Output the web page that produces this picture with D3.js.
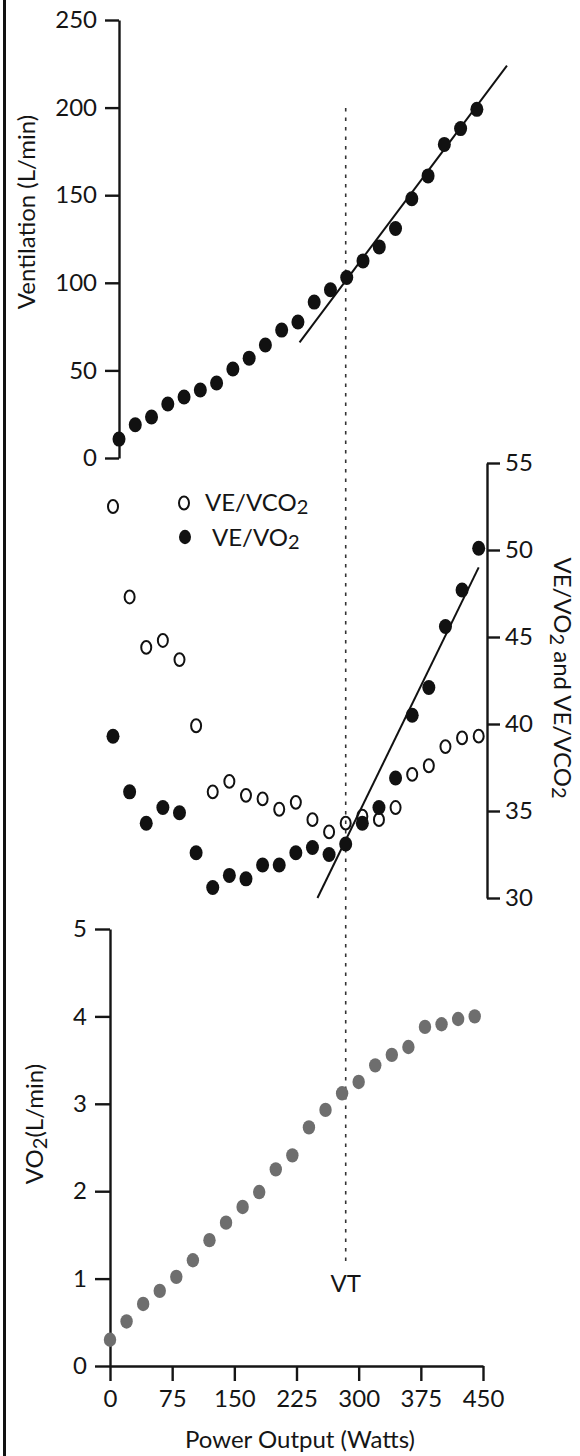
<!DOCTYPE html>
<html>
<head>
<meta charset="utf-8">
<script src="https://cdn.jsdelivr.net/npm/d3@7"></script>
<style>
  body { margin: 0; background: #fff; }
  text { font-family: Lato, "DejaVu Sans", sans-serif; fill: #151515; }
  .axis text { font-size: 24px; }
  .axis path, .axis line { stroke: #151515; stroke-width: 2.4; }
  .label { font-size: 24px; }
</style>
</head>
<body>
<script>
var svgWidth = 580;
var svgHeight = 1456;

// power steps (W), one reading every 20 W
var power = [0, 20, 40, 60, 80, 100, 120, 140, 160, 180, 200, 220,
             240, 260, 280, 300, 320, 340, 360, 380, 400, 420, 440];

// top panel: ventilation (L/min)
var ventilation = [10.8, 19, 23.4, 30.8, 34.8, 38.8, 42.8, 50.8, 57, 64.5, 73, 77.6,
                   89, 96, 103, 112.5, 120.5, 131, 148, 161, 179, 188, 199];

// middle panel: ventilatory equivalents
var veVco2 = [52.5, 47.3, 44.4, 44.8, 43.7, 39.9, 36.1, 36.7, 35.9, 35.7, 35.1, 35.5,
              34.5, 33.8, 34.3, 34.7, 34.5, 35.2, 37.1, 37.6, 38.7, 39.2, 39.3];
var veVo2 = [39.3, 36.1, 34.3, 35.2, 34.9, 32.6, 30.6, 31.3, 31.1, 31.9, 31.9, 32.6,
             32.9, 32.5, 33.1, 34.3, 35.2, 36.9, 40.5, 42.1, 45.6, 47.7, 50.1];

// bottom panel: VO2 (L/min)
var vo2 = [0.30, 0.51, 0.71, 0.86, 1.02, 1.21, 1.44, 1.64, 1.82, 1.99, 2.25, 2.41,
           2.73, 2.93, 3.12, 3.25, 3.44, 3.56, 3.65, 3.88, 3.91, 3.97, 4.00];

// fitted lines drawn on the figure (ends)
var ventFitX = [222, 477];
var ventFitY = [66, 224];
var ratioFitX = [246, 440];
var ratioFitY = [30, 49];

// ventilatory threshold
var vtPower = 280;

// tick labels
var ventTicks = [0, 50, 100, 150, 200, 250];
var ratioTicks = [30, 35, 40, 45, 50, 55];
var vo2Ticks = [0, 1, 2, 3, 4, 5];
var powerTicks = [0, 75, 150, 225, 300, 375, 450];

var svg = d3.select("body")
  .append("svg")
  .attr("width", svgWidth)
  .attr("height", svgHeight);

// left frame line
svg.append("line")
  .attr("x1", 4.5).attr("x2", 4.5)
  .attr("y1", 0).attr("y2", svgHeight)
  .attr("stroke", "#111")
  .attr("stroke-width", 3);

// scales, one set per panel (panels are not perfectly aligned)
var xTop = d3.scaleLinear().domain([0, 450]).range([119, 485]);
var yVent = d3.scaleLinear().domain([0, 250]).range([458, 20]);

var xMid = d3.scaleLinear().domain([0, 450]).range([113, 487]);
var yRatio = d3.scaleLinear().domain([30, 55]).range([898, 463]);

var xBot = d3.scaleLinear().domain([0, 450]).range([110, 483]);
var yVo2 = d3.scaleLinear().domain([0, 5]).range([1366, 929]);

function styleAxis(g) {
  g.attr("font-family", null).attr("font-size", null).classed("axis", true);
}

// ---- axes
svg.append("g")
  .attr("transform", "translate(119,0)")
  .call(d3.axisLeft(yVent).tickValues(ventTicks).tickFormat(d3.format("d"))
    .tickSize(14).tickSizeOuter(0).tickPadding(8))
  .call(styleAxis);

svg.append("g")
  .attr("transform", "translate(487,0)")
  .call(d3.axisRight(yRatio).tickValues(ratioTicks).tickFormat(d3.format("d"))
    .tickSize(13).tickSizeOuter(0).tickPadding(5))
  .call(styleAxis);

svg.append("g")
  .attr("transform", "translate(110,0)")
  .call(d3.axisLeft(yVo2).tickValues(vo2Ticks).tickFormat(d3.format("d"))
    .tickSize(15).tickSizeOuter(0).tickPadding(8))
  .call(styleAxis);

svg.append("g")
  .attr("transform", "translate(0,1366)")
  .call(d3.axisBottom(xBot).tickValues(powerTicks).tickFormat(d3.format("d"))
    .tickSize(15).tickSizeOuter(0).tickPadding(9))
  .call(styleAxis);

// ---- VT dashed line
svg.append("line")
  .attr("x1", xMid(vtPower)).attr("x2", xMid(vtPower))
  .attr("y1", 108).attr("y2", 1262)
  .attr("stroke", "#333")
  .attr("stroke-width", 1.6)
  .attr("stroke-dasharray", "3.5,6");

svg.append("text")
  .attr("class", "label")
  .attr("x", xMid(vtPower))
  .attr("y", 1292)
  .attr("text-anchor", "middle")
  .text("VT");

// ---- top panel
svg.append("line")
  .attr("x1", xTop(ventFitX[0])).attr("y1", yVent(ventFitY[0]))
  .attr("x2", xTop(ventFitX[1])).attr("y2", yVent(ventFitY[1]))
  .attr("stroke", "#111").attr("stroke-width", 2);

svg.append("g").selectAll("ellipse")
  .data(power)
  .enter()
  .append("ellipse")
  .attr("cx", (d, i) => xTop(d))
  .attr("cy", (d, i) => yVent(ventilation[i]))
  .attr("rx", 6.5).attr("ry", 7.5)
  .attr("fill", "#111");

// ---- middle panel
svg.append("line")
  .attr("x1", xMid(ratioFitX[0])).attr("y1", yRatio(ratioFitY[0]))
  .attr("x2", xMid(ratioFitX[1])).attr("y2", yRatio(ratioFitY[1]))
  .attr("stroke", "#111").attr("stroke-width", 2);

svg.append("g").selectAll("ellipse")
  .data(power)
  .enter()
  .append("ellipse")
  .attr("cx", d => xMid(d))
  .attr("cy", (d, i) => yRatio(veVco2[i]))
  .attr("rx", 5).attr("ry", 6.4)
  .attr("fill", "none")
  .attr("stroke", "#111")
  .attr("stroke-width", 2);

svg.append("g").selectAll("ellipse")
  .data(power)
  .enter()
  .append("ellipse")
  .attr("cx", d => xMid(d))
  .attr("cy", (d, i) => yRatio(veVo2[i]))
  .attr("rx", 6.5).attr("ry", 7.5)
  .attr("fill", "#111");

// legend
svg.append("ellipse")
  .attr("cx", 184).attr("cy", 503)
  .attr("rx", 5).attr("ry", 6.4)
  .attr("fill", "none").attr("stroke", "#111").attr("stroke-width", 2);
svg.append("ellipse")
  .attr("cx", 185).attr("cy", 537)
  .attr("rx", 6).attr("ry", 7.2)
  .attr("fill", "#111");

var leg1 = svg.append("text").attr("class", "label").attr("x", 205).attr("y", 511);
leg1.append("tspan").text("VE/VCO");
leg1.append("tspan").attr("font-size", "20px").attr("dy", 3).text("2");

var leg2 = svg.append("text").attr("class", "label").attr("x", 212).attr("y", 546);
leg2.append("tspan").text("VE/VO");
leg2.append("tspan").attr("font-size", "20px").attr("dy", 3).text("2");

// ---- bottom panel
svg.append("g").selectAll("ellipse")
  .data(power)
  .enter()
  .append("ellipse")
  .attr("cx", d => xBot(d))
  .attr("cy", (d, i) => yVo2(vo2[i]))
  .attr("rx", 6.2).attr("ry", 7.2)
  .attr("fill", "#6e6e6e");

// ---- axis titles
svg.append("text")
  .attr("class", "label")
  .attr("transform", "translate(35,212) rotate(-90)")
  .attr("text-anchor", "middle")
  .text("Ventilation (L/min)");

var rt = svg.append("text")
  .attr("class", "label")
  .attr("transform", "translate(554,678) rotate(90)")
  .attr("text-anchor", "middle");
rt.append("tspan").text("VE/VO");
rt.append("tspan").attr("font-size", "20px").attr("dy", 4).text("2");
rt.append("tspan").attr("dy", -4).text(" and VE/VCO");
rt.append("tspan").attr("font-size", "20px").attr("dy", 2).text("2");

var lt = svg.append("text")
  .attr("class", "label")
  .attr("transform", "translate(43,1124) rotate(-90)")
  .attr("text-anchor", "middle");
lt.append("tspan").text("VO");
lt.append("tspan").attr("font-size", "20px").attr("dy", 4).text("2");
lt.append("tspan").attr("dy", -4).text("(L/min)");

svg.append("text")
  .attr("class", "label")
  .attr("x", 300)
  .attr("y", 1448)
  .attr("text-anchor", "middle")
  .text("Power Output (Watts)");
</script>
</body>
</html>
